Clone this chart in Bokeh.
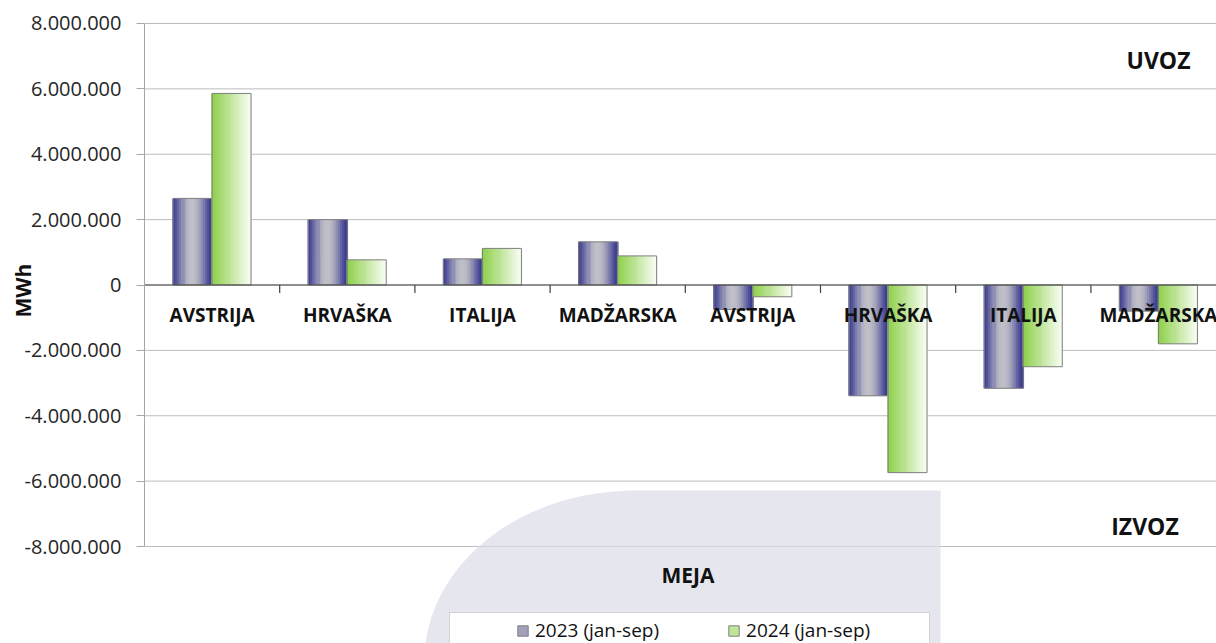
import math
from bokeh.plotting import figure
from bokeh.models import (Range1d, FixedTicker, Label, BoxAnnotation,
                          Legend, LegendItem, ColumnDataSource)
from bokeh.core.properties import value
from bokeh.embed import file_html
from bokeh.resources import INLINE

# ---------------- data ----------------
categories = ["AVSTRIJA", "HRVAŠKA", "ITALIJA", "MADŽARSKA",
              "AVSTRIJA", "HRVAŠKA", "ITALIJA", "MADŽARSKA"]
v2023 = [2650000, 2000000, 800000, 1320000, -750000, -3390000, -3160000, -800000]
v2024 = [5860000, 770000, 1120000, 890000, -360000, -5740000, -2500000, -1800000]
series_labels = ["2023 (jan-sep)", "2024 (jan-sep)"]
tick_values = [-8000000, -6000000, -4000000, -2000000, 0,
               2000000, 4000000, 6000000, 8000000]
tick_labels = ["-8.000.000", "-6.000.000", "-4.000.000", "-2.000.000", "0",
               "2.000.000", "4.000.000", "6.000.000", "8.000.000"]

# ---------------- styles ----------------
FONT = "Open Sans"
BAR_W = 0.288
OFFSETS = [-0.144, 0.144]
N_STRIPS = 18
PX_X = 135.2          # pixels per category
PX_Y = 32.69 / 1e6    # pixels per MWh
LEFT_PX = 144         # pixel position of the value axis
TOP_PX = 23           # pixel position of the top tick


def hex2rgb(h):
    h = h.lstrip("#")
    return tuple(int(h[k:k + 2], 16) for k in (0, 2, 4))


def mix(c1, c2, w):
    a, b = hex2rgb(c1), hex2rgb(c2)
    return "#%02x%02x%02x" % tuple(int(round(x + (y - x) * w)) for x, y in zip(a, b))


def color_2023(t):
    w = math.sin(math.pi * t) ** 1.3
    return mix("#383890", "#c0c0c8", w)


def color_2024(t):
    return mix("#8ccf48", "#f8fdf4", t)


gradients = [color_2023, color_2024]
legend_t = [0.3, 0.45]

p = figure(width=1216, height=643, output_backend="svg", toolbar_location=None,
           x_range=Range1d(-LEFT_PX / PX_X, (1216 - LEFT_PX) / PX_X),
           y_range=Range1d(-8e6 - 97 / PX_Y, 8e6 + TOP_PX / PX_Y),
           x_axis_location=None, y_axis_location="left",
           min_border_left=0, min_border_right=0, min_border_top=0,
           min_border_bottom=0, background_fill_color="white",
           border_fill_color="white")
p.outline_line_color = None

# y axis (fixed at the start of the category axis)
ticker = FixedTicker(ticks=tick_values)
yax = p.yaxis[0]
yax.fixed_location = 0
yax.ticker = ticker
yax.major_label_overrides = {v: l for v, l in zip(tick_values, tick_labels)}
yax.bounds = (tick_values[0], tick_values[-1])
yax.axis_line_color = "#a6a6a6"
yax.major_tick_line_color = "#a6a6a6"
yax.major_tick_in = 0
yax.major_tick_out = 8
yax.minor_tick_line_color = None
yax.major_label_standoff = 15
yax.major_label_text_font = FONT
yax.major_label_text_font_size = "20px"
yax.major_label_text_color = "#262626"

p.xgrid.visible = False
p.ygrid.visible = False
# horizontal gridlines starting at the value axis
p.segment(x0=[0] * len(tick_values), y0=tick_values,
          x1=[len(categories)] * len(tick_values), y1=tick_values,
          line_color="#bdbdbd", line_width=1)

# MEJA background shape (decorative)
cx, cy, rx, ry = 3.624, -11.49e6, 1.553, 5.2e6
right_x = 5.888
sx, sy = [], []
for k in range(41):
    th = math.pi - (math.pi / 2) * k / 40
    sx.append(cx + rx * math.cos(th))
    sy.append(cy + ry * math.sin(th))
sx += [right_x, right_x]
sy += [cy + ry, cy]
p.patch(sx, sy, fill_color="#dcdce8", fill_alpha=0.7, line_color=None)

# bars with gradient strips
renderers = []
for s, vals in enumerate([v2023, v2024]):
    sw = BAR_W / N_STRIPS
    rep = int(legend_t[s] * N_STRIPS)
    order = [rep] + [j for j in range(N_STRIPS) if j != rep]
    d = dict(x=[], top=[], color=[])
    for i, v in enumerate(vals):
        xc = i + 0.5 + OFFSETS[s]
        for j in order:
            d["x"].append(xc - BAR_W / 2 + (j + 0.5) * sw)
            d["top"].append(v)
            d["color"].append(gradients[s]((j + 0.5) / N_STRIPS))
    r_strips = p.vbar(x="x", top="top", bottom=0, width=sw * 1.7,
                      fill_color="color", line_color=None,
                      source=ColumnDataSource(d))
    r_out = p.vbar(x=[i + 0.5 + OFFSETS[s] for i in range(len(vals))],
                   top=vals, bottom=0, width=BAR_W, fill_color=None,
                   line_color="#7f7f7f", line_width=1)
    renderers.append((r_strips, r_out))

# zero (category) axis line and tick marks
p.segment(x0=[0], y0=[0], x1=[len(categories)], y1=[0],
          line_color="#404040", line_width=1.2)
tick_len = 8 / PX_Y
bounds = list(range(1, len(categories)))
p.segment(x0=bounds, y0=[0] * len(bounds), x1=bounds, y1=[-tick_len] * len(bounds),
          line_color="#404040", line_width=1.2)

# category labels
p.text(x=[i + 0.5 for i in range(len(categories))], y=[-0.93e6] * len(categories),
       text=categories, text_font=value(FONT), text_font_style="bold",
       text_font_size="19px", text_align="center", text_baseline="middle",
       text_color="#111111")

# annotations
p.add_layout(Label(x=(22 - LEFT_PX) / PX_X, y=-0.17e6, text="MWh", angle=math.pi / 2,
                   text_font=FONT, text_font_style="bold", text_font_size="21px",
                   text_align="center", text_baseline="middle", text_color="#111111"))
p.add_layout(Label(x=7.50, y=6.87e6, text="UVOZ", text_font=FONT,
                   text_font_style="bold", text_font_size="23px",
                   text_align="center", text_baseline="middle", text_color="#111111"))
p.add_layout(Label(x=7.40, y=-7.36e6, text="IZVOZ", text_font=FONT,
                   text_font_style="bold", text_font_size="23px",
                   text_align="center", text_baseline="middle", text_color="#111111"))
p.add_layout(Label(x=4.02, y=-8.86e6, text="MEJA", text_font=FONT,
                   text_font_style="bold", text_font_size="21px",
                   text_align="center", text_baseline="middle", text_color="#111111"))

# legend box + legend
p.add_layout(BoxAnnotation(left=(449 - LEFT_PX) / PX_X, right=(929 - LEFT_PX) / PX_X,
                           top=-(612 - 284.5) / PX_Y, bottom=-12e6,
                           fill_color="white", fill_alpha=1.0,
                           line_color="#8c8c8c", line_width=1))
legend = Legend(items=[LegendItem(label=series_labels[s], renderers=list(renderers[s]), index=0)
                       for s in range(2)],
                orientation="horizontal", location=(516, 0),
                border_line_color=None, background_fill_alpha=0,
                padding=0, margin=0, spacing=68,
                glyph_width=13, glyph_height=13, label_standoff=6,
                label_text_font=FONT, label_text_font_size="19px",
                label_text_color="#111111")
p.add_layout(legend)

open("out.html", "w").write(file_html(p, INLINE))
